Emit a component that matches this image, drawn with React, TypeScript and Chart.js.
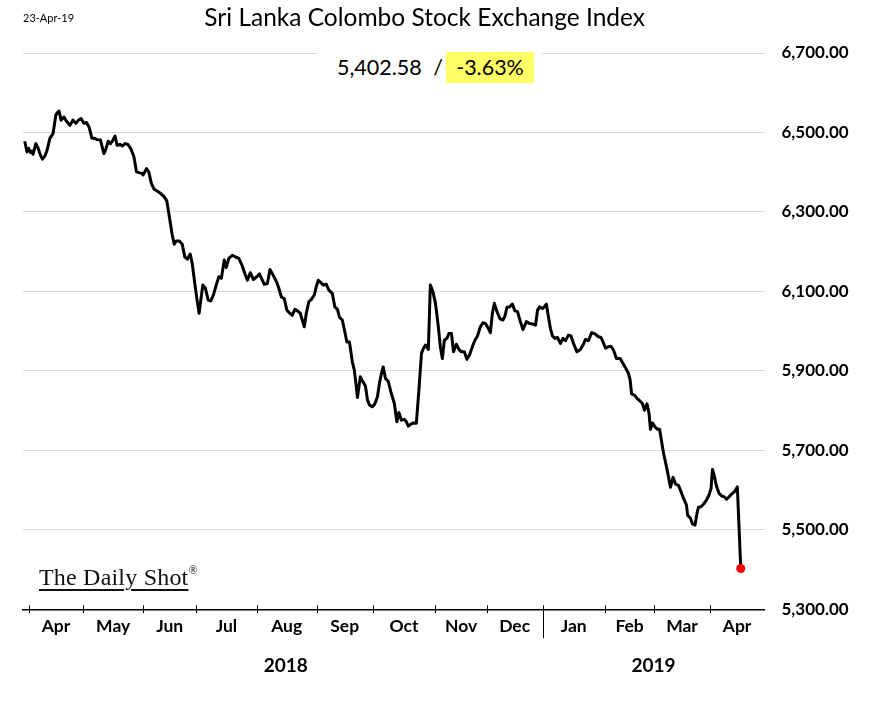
import React, { useEffect, useRef } from "react";
import { Chart, registerables } from "chart.js";

Chart.register(...registerables);

// Trading-session position (x) and closing level (y) of the index
const sessionPos: number[] = [
  0, 0.8, 1.4, 2.0, 2.5, 2.9, 3.9, 4.7, 5.5, 6.2, 7.1, 7.8, 8.8, 9.9, 10.9, 11.4, 12.0, 12.7, 13.7, 14.6,
  15.8, 16.9, 17.9, 18.8, 19.7, 20.7, 21.6, 22.5, 23.5, 24.5, 25.3, 26.5, 27.7, 28.4, 29.2, 30.0, 30.9, 31.6, 32.3, 33.3,
  34.2, 35.1, 36.1, 37.2, 38.2, 39.1, 40.0, 41.0, 41.4, 42.6, 43.4, 44.3, 45.3, 46.7, 47.8, 48.8, 49.7, 50.6, 51.6, 52.3,
  53.0, 54.1, 55.1, 56.0, 56.9, 57.9, 58.6, 59.5, 60.3, 61.0, 61.6, 62.3, 63.2, 64.2, 65.1, 66.0, 67.0, 67.9, 68.8, 69.8,
  70.5, 71.4, 72.6, 73.7, 74.9, 76.1, 77.0, 77.9, 78.9, 80.0, 81.2, 82.1, 83.8, 84.9, 85.8, 86.9, 88.1, 88.9, 89.8, 90.8,
  91.7, 92.6, 93.6, 94.5, 95.4, 96.4, 97.1, 97.8, 98.5, 99.4, 100.3, 101.3, 102.0, 102.7, 103.6, 104.5, 105.5, 106.4, 107.6, 108.5,
  109.4, 110.1, 111.1, 112.0, 112.7, 113.6, 114.6, 115.3, 116.0, 116.4, 117.4, 118.3, 119.2, 119.9, 120.6, 121.6, 122.5, 123.4, 124.1, 124.8,
  125.4, 126.2, 127.2, 128.1, 129.3, 130.2, 130.9, 131.8, 132.8, 133.5, 134.2, 135.1, 136.0, 137.0, 137.9, 138.8, 139.5, 140.2, 141.2, 141.9,
  142.8, 143.7, 144.7, 145.4, 146.1, 146.8, 147.7, 148.4, 149.3, 150.0, 151.0, 151.9, 152.8, 153.8, 154.7, 155.6, 156.6, 157.5, 158.4, 159.4,
  160.3, 161.2, 162.2, 162.9, 163.6, 164.3, 165.2, 166.3, 167.3, 168.0, 168.7, 169.6, 170.6, 171.5, 172.4, 173.4, 174.3, 175.5, 176.6, 177.8,
  178.7, 179.4, 180.1, 181.1, 181.8, 182.5, 183.2, 183.9, 184.6, 185.5, 186.4, 187.4, 188.3, 189.2, 190.2, 191.1, 192.0, 193.2, 194.4, 195.3,
  196.2, 197.2, 198.3, 199.5, 200.7, 201.6, 202.3, 203.2, 204.2, 205.1, 206.0, 207.0, 208.3, 210.0, 211.2, 211.8, 212.3, 213.3, 214.2, 215.1,
  216.1, 216.8, 217.7, 218.4, 218.9, 219.6, 220.5, 221.4, 222.1, 222.8, 223.5, 224.5, 225.2, 225.9, 226.8, 227.7, 228.7, 229.6, 230.5, 231.5,
  231.9, 232.9, 233.6, 234.5, 235.2, 235.7, 236.6, 237.5, 238.5, 239.4, 240.1, 240.6, 241.3, 242.0, 242.9, 243.8, 244.8, 245.5, 246.4, 247.3,
  248.3, 249.3, 250.5,
];

const indexClose: number[] = [
  6478, 6451, 6460, 6450, 6453, 6445, 6472, 6460, 6443, 6433, 6441, 6455, 6485, 6497, 6544, 6550, 6554, 6531, 6539, 6528,
  6518, 6531, 6523, 6531, 6535, 6523, 6525, 6514, 6486, 6485, 6482, 6481, 6447, 6458, 6478, 6472, 6481, 6491, 6468, 6470,
  6466, 6472, 6470, 6458, 6439, 6401, 6399, 6397, 6393, 6409, 6401, 6372, 6357, 6351, 6345, 6338, 6328, 6288, 6242, 6219,
  6227, 6227, 6219, 6187, 6181, 6194, 6170, 6120, 6078, 6045, 6078, 6116, 6108, 6078, 6076, 6091, 6116, 6137, 6133, 6179,
  6160, 6183, 6191, 6187, 6183, 6164, 6145, 6128, 6147, 6130, 6137, 6144, 6118, 6120, 6155, 6141, 6124, 6108, 6086, 6082,
  6053, 6046, 6040, 6055, 6051, 6045, 6028, 6011, 6045, 6074, 6080, 6091, 6112, 6128, 6122, 6116, 6118, 6103, 6095, 6061,
  6055, 6035, 6028, 5998, 5973, 5973, 5923, 5902, 5860, 5833, 5885, 5873, 5862, 5827, 5814, 5810, 5817, 5835, 5869, 5894,
  5910, 5881, 5873, 5847, 5818, 5772, 5795, 5776, 5778, 5772, 5761, 5766, 5769, 5768, 5852, 5944, 5957, 5965, 5954, 6116,
  6099, 6070, 6011, 5961, 5931, 5977, 5982, 5994, 5994, 5948, 5967, 5954, 5948, 5948, 5929, 5940, 5961, 5977, 5988, 6011,
  6021, 6019, 6007, 5996, 6045, 6070, 6049, 6031, 6028, 6038, 6060, 6061, 6068, 6051, 6049, 6024, 6004, 6024, 6019, 6018,
  6015, 6053, 6061, 6057, 6061, 6068, 6036, 6007, 5988, 5982, 5984, 5969, 5982, 5976, 5990, 5988, 5969, 5948, 5954, 5965,
  5979, 5976, 5996, 5993, 5986, 5984, 5973, 5957, 5961, 5962, 5952, 5931, 5931, 5910, 5894, 5877, 5842, 5839, 5831, 5825,
  5818, 5801, 5817, 5793, 5753, 5769, 5759, 5753, 5753, 5722, 5692, 5659, 5634, 5607, 5632, 5615, 5612, 5596, 5579, 5562,
  5537, 5529, 5515, 5512, 5542, 5557, 5558, 5565, 5575, 5588, 5604, 5652, 5634, 5610, 5592, 5585, 5583, 5577, 5583, 5590,
  5596, 5608, 5402.58,
];

const yTicks = [5300, 5500, 5700, 5900, 6100, 6300, 6500, 6700];
const monthBounds = [1.4, 20.5, 41.4, 60.0, 81.1, 102.2, 121.7, 143.7, 161.6, 181.2, 202.9, 220.3, 239.6];
const monthLabels = ["Apr", "May", "Jun", "Jul", "Aug", "Sep", "Oct", "Nov", "Dec", "Jan", "Feb", "Mar", "Apr"];
const yearLabels = ["2018", "2019"];
const yearStartMonth = [0, 9];
const X_MIN = -0.6;
const X_MAX = 258.8;

const dateLabel = "23-Apr-19";
const titleText = "Sri Lanka Colombo Stock Exchange Index";
const lastValueText = "5,402.58";
const changeText = "-3.63%";

const monthMid = monthBounds.map((b, i) => (b + (i + 1 < monthBounds.length ? monthBounds[i + 1] : X_MAX)) / 2);
const yearMid = yearStartMonth.map((m, i) => {
  const start = monthBounds[m];
  const end = i + 1 < yearStartMonth.length ? monthBounds[yearStartMonth[i + 1]] : X_MAX;
  return (start + end) / 2;
});

const FONT = "Lato, 'Open Sans', sans-serif";

const axisMarks = {
  id: "axisMarks",
  afterDraw(chart: any) {
    const { ctx, chartArea } = chart;
    const xs = chart.scales.x;
    const y0 = chartArea.bottom;
    ctx.save();
    ctx.strokeStyle = "#000";
    ctx.lineWidth = 1;
    monthBounds.forEach((b, i) => {
      const px = Math.round(xs.getPixelForValue(b)) + 0.5;
      ctx.beginPath();
      ctx.moveTo(px, y0 - 4);
      ctx.lineTo(px, i === yearStartMonth[1] ? y0 + 29 : y0 + 4);
      ctx.stroke();
    });
    ctx.restore();
  },
};

export default function App() {
  const canvasRef = useRef<HTMLCanvasElement | null>(null);

  useEffect(() => {
    if (!canvasRef.current) return;
    const n = indexClose.length;
    const chart = new Chart(canvasRef.current, {
      type: "line",
      data: {
        datasets: [
          {
            data: sessionPos.map((x, i) => ({ x, y: indexClose[i] })),
            borderColor: "#000000",
            borderWidth: 3,
            tension: 0,
            borderJoinStyle: "round",
            pointRadius: (c: any) => (c.dataIndex === n - 1 ? 4.5 : 0),
            pointBackgroundColor: "#ff0000",
            pointBorderWidth: 0,
            xAxisID: "x",
            yAxisID: "y",
          } as any,
        ],
      },
      options: {
        animation: false,
        responsive: false,
        maintainAspectRatio: false,
        layout: { padding: { left: 23, right: 0, top: 53, bottom: 36.7 } },
        plugins: { legend: { display: false }, tooltip: { enabled: false }, title: { display: false } },
        scales: {
          x: {
            type: "linear",
            position: "bottom",
            min: X_MIN,
            max: X_MAX,
            weight: 0,
            grid: { display: true, drawOnChartArea: false, drawTicks: false },
            border: { display: true, color: "#000", width: 1.5 },
            ticks: { display: false },
            afterFit: (s: any) => {
              s.height = 4;
            },
          },
          xMonth: {
            type: "linear",
            position: "bottom",
            min: X_MIN,
            max: X_MAX,
            weight: 1,
            grid: { display: false, drawTicks: false },
            border: { display: false },
            afterBuildTicks: (s: any) => {
              s.ticks = monthMid.map((v) => ({ value: v }));
            },
            ticks: {
              autoSkip: false,
              maxRotation: 0,
              minRotation: 0,
              padding: 3,
              color: "#000",
              font: { family: FONT, size: 17.5, weight: "bold" },
              callback: (_v: any, i: number) => monthLabels[i],
            },
            afterFit: (s: any) => {
              s.height = 30;
            },
          },
          xYear: {
            type: "linear",
            position: "bottom",
            min: X_MIN,
            max: X_MAX,
            weight: 2,
            grid: { display: false, drawTicks: false },
            border: { display: false },
            afterBuildTicks: (s: any) => {
              s.ticks = yearMid.map((v) => ({ value: v }));
            },
            ticks: {
              autoSkip: false,
              maxRotation: 0,
              minRotation: 0,
              padding: 11,
              color: "#000",
              font: { family: FONT, size: 19, weight: "bold" },
              callback: (_v: any, i: number) => yearLabels[i],
            },
            afterFit: (s: any) => {
              s.height = 30;
            },
          },
          y: {
            type: "linear",
            position: "right",
            min: 5300,
            max: 6700,
            afterBuildTicks: (s: any) => {
              s.ticks = yTicks.map((v) => ({ value: v }));
            },
            grid: { color: "#d9d9d9", lineWidth: 1, drawTicks: false },
            border: { display: false },
            ticks: {
              padding: 17,
              color: "#000",
              font: { family: FONT, size: 17, weight: "bold" },
              callback: (v: any) =>
                Number(v).toLocaleString("en-US", { minimumFractionDigits: 2, maximumFractionDigits: 2 }),
            },
            afterFit: (s: any) => {
              s.width = 105.5;
            },
          },
        },
      } as any,
      plugins: [axisMarks],
    });
    return () => chart.destroy();
  }, []);

  const abs = (extra: React.CSSProperties): React.CSSProperties => ({
    position: "absolute",
    whiteSpace: "nowrap",
    lineHeight: 1,
    ...extra,
  });

  return (
    <div style={{ position: "absolute", left: 0, top: 0, width: 870, height: 710, background: "#fff", overflow: "hidden" }}>
      <canvas ref={canvasRef} width={870} height={710} style={{ position: "absolute", left: 0, top: 0, width: 870, height: 710 }} />
      <div style={abs({ left: 23, top: 17.3, transform: "translateY(-50%)", fontFamily: FONT, fontSize: 11, color: "#000" })}>
        {dateLabel}
      </div>
      <div style={abs({ left: 424.7, top: 16.5, transform: "translate(-50%,-50%)", fontFamily: FONT, fontSize: 24.5, color: "#000" })}>
        {titleText}
      </div>
      <div style={abs({ left: 317, top: 40, width: 225, height: 50, background: "#fff" })} />
      <div style={abs({ left: 337, top: 68, transform: "translateY(-50%)", fontFamily: FONT, fontSize: 21.5, color: "#000" })}>
        {lastValueText}
      </div>
      <div style={abs({ left: 438, top: 68, transform: "translate(-50%,-50%)", fontFamily: FONT, fontSize: 21.5, color: "#000" })}>
        /
      </div>
      <div style={abs({ left: 446, top: 51.7, width: 88, height: 31, background: "#ffff66" })} />
      <div style={abs({ left: 490, top: 68, transform: "translate(-50%,-50%)", fontFamily: FONT, fontSize: 21.5, color: "#000" })}>
        {changeText}
      </div>
      <div style={abs({ left: 39, top: 565, fontFamily: "'Liberation Serif', 'DejaVu Serif', serif", fontSize: 24, color: "#111", letterSpacing: "0.2px" })}>
        <span style={{ textDecoration: "underline", textDecorationThickness: "1.5px", textUnderlineOffset: "4px" }}>The Daily Shot</span>
        <span style={{ fontSize: 12, verticalAlign: "top", position: "relative", top: -1 }}>®</span>
      </div>
    </div>
  );
}
